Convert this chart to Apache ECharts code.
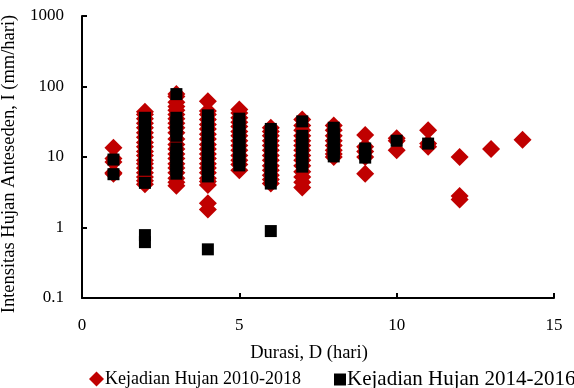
<!DOCTYPE html>
<html>
<head>
<meta charset="utf-8">
<script src="https://cdn.jsdelivr.net/npm/echarts@6/dist/echarts.min.js"></script>
<style>
  html, body { margin: 0; padding: 0; background: #fff; }
  #chart { width: 574px; height: 388px; }
</style>
</head>
<body>
<div id="chart"></div>
<script>
// Rain-event duration (days)
const durasi = [1, 2, 3, 4, 5, 6, 7, 8, 9, 10, 11, 12, 13, 14];

// Antecedent intensity (mm/day) per duration, events 2010-2018
const hujan2010_2018 = [
  [13.5, 9.5, 8.5, 6, 5.8],
  [44, 40, 35, 30, 26, 22, 19, 16, 14, 12, 10.5, 9, 8, 7, 6, 5.2, 4.6, 4.1],
  [78, 72, 60, 52, 46, 40, 35, 30, 26, 22, 18, 15, 13, 11, 9.5, 8, 7, 6, 5, 4.4, 3.9],
  [62, 45, 40, 34, 29, 25, 21, 18, 15, 13, 11, 9.5, 8, 7, 6, 5, 4.5, 4, 2.2, 1.8],
  [47, 42, 36, 31, 27, 23, 20, 17, 14.5, 12.5, 10.5, 9, 7.8, 6.5],
  [26, 23, 20, 17, 14.5, 12.5, 10.5, 9, 7.5, 6.5, 5.5, 4.8, 4.2],
  [34, 28, 24, 20, 17, 14.5, 12.5, 10.5, 9, 7.5, 6.2, 5.2, 4.4, 3.7],
  [28, 24, 20, 17, 14.5, 12.5, 11, 10],
  [20.5, 14, 12, 10, 5.8],
  [18.5, 17, 12.5],
  [24, 15.5, 14],
  [10, 2.8, 2.5],
  [13],
  [17.5]
];

// Antecedent intensity (mm/day) per duration, events 2014-2016
const hujan2014_2016 = [
  [9.2, 5.7],
  [36, 31, 27, 23, 20, 17, 15, 13, 11.5, 10, 8.8, 7.7, 6.6, 4.3, 0.78, 0.62],
  [78, 36, 31, 27, 23, 20, 13.2, 11.5, 10, 8.7, 7.5, 6.6, 5.8],
  [39, 33, 28, 24, 20.5, 17.5, 15, 13, 11, 9.5, 8.2, 7, 6.1, 5.3, 0.49],
  [35, 30, 26, 22, 19, 16, 14, 12, 10.5, 9, 7.6],
  [25, 21.5, 18.5, 16, 14, 12, 10.5, 9, 7.8, 6.8, 5.8, 5, 4.2, 0.89],
  [32, 20, 17.5, 15, 13, 11.2, 9.7, 8.4, 7.3],
  [26, 21, 18, 15.5, 13, 11.5, 10.2],
  [13.2, 11.5, 9.8],
  [17],
  [15.5],
  [],
  [],
  []
];

const xTicks = [0, 5, 10, 15];
const yTicks = [0.1, 1, 10, 100, 1000];

function toPoints(perDuration) {
  const pts = [];
  perDuration.forEach((vals, i) => vals.forEach(v => pts.push([durasi[i], v])));
  return pts;
}

const FONT = '"Liberation Serif", "Times New Roman", serif';
const nameA = 'Kejadian Hujan 2010-2018';
const nameB = 'Kejadian Hujan 2014-2016';

const chart = echarts.init(document.getElementById('chart'), null, { renderer: 'canvas' });
chart.setOption({
  animation: false,
  backgroundColor: '#fff',
  grid: { left: 82, right: 20, top: 16, bottom: 90, containLabel: false, outerBoundsMode: 'none' },
  legend: [
    {
      data: [{ name: nameA, icon: 'diamond' }],
      left: 84, top: 365,
      itemWidth: 15, itemHeight: 15, itemGap: 2,
      textStyle: { fontFamily: FONT, fontSize: 18, color: '#000', padding: [0, 0, 0, -4] },
      selectedMode: false
    },
    {
      data: [{ name: nameB, icon: 'rect' }],
      left: 329, top: 364,
      itemWidth: 12, itemHeight: 12, itemGap: 2,
      textStyle: { fontFamily: FONT, fontSize: 21, color: '#000', padding: [0, 0, 0, -4] },
      selectedMode: false
    }
  ],
  xAxis: {
    type: 'value',
    min: xTicks[0], max: xTicks[xTicks.length - 1], interval: 5,
    name: 'Durasi, D (hari)',
    nameLocation: 'middle', nameGap: 46,
    nameTextStyle: { fontFamily: FONT, fontSize: 18.5, color: '#000', padding: [0, 18, 0, 0] },
    axisLine: { onZero: false, lineStyle: { color: '#000', width: 2 } },
    axisTick: { inside: true, length: 5, lineStyle: { color: '#000', width: 2 } },
    axisLabel: { fontFamily: FONT, fontSize: 17, color: '#000', margin: 19 },
    splitLine: { show: false }
  },
  yAxis: {
    type: 'log', logBase: 10,
    min: yTicks[0], max: yTicks[yTicks.length - 1],
    name: 'Intensitas Hujan Anteseden, I (mm/hari)',
    nameLocation: 'middle', nameGap: 58,
    nameTextStyle: { fontFamily: FONT, fontSize: 18.5, color: '#000', padding: [0, 14, 0, 0] },
    axisLine: { show: true, lineStyle: { color: '#000', width: 2 } },
    axisTick: { show: true, inside: true, length: 5, lineStyle: { color: '#000', width: 2 } },
    axisLabel: {
      fontFamily: FONT, fontSize: 17, color: '#000', margin: 18,
      formatter: v => String(+v.toPrecision(6))
    },
    splitLine: { show: false }
  },
  series: [
    {
      name: nameA, type: 'scatter',
      symbol: 'diamond', symbolSize: 18,
      itemStyle: { color: '#C00000', opacity: 1 },
      emphasis: { disabled: true },
      data: toPoints(hujan2010_2018)
    },
    {
      name: nameB, type: 'scatter',
      symbol: 'rect', symbolSize: 12,
      itemStyle: { color: '#000', opacity: 1 },
      emphasis: { disabled: true },
      data: toPoints(hujan2014_2016)
    }
  ]
});
</script>
</body>
</html>
